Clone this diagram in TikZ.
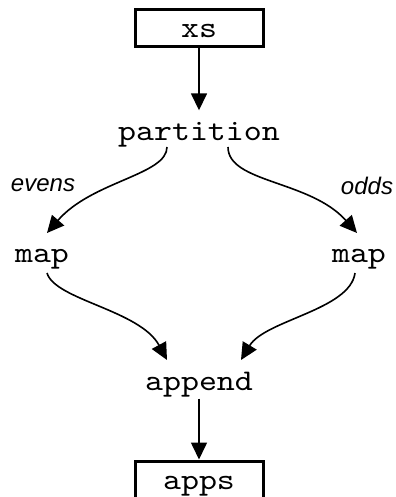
\documentclass[tikz,border=0pt]{standalone}
\usepackage{fontspec}
\newfontfamily\cour{lmmono10-regular.otf}[FakeStretch=1.14]
\newfontfamily\lab{Liberation Sans}
\usetikzlibrary{arrows.meta}
\begin{document}
\begin{tikzpicture}[x=1bp,y=-1bp,
  txt/.style={inner sep=0pt, text height=22bp, text depth=3bp, minimum height=42bp,
    font=\cour\fontsize{30bp}{34bp}\selectfont},
  boxnode/.style={txt, draw, line width=3bp, minimum width=128bp, minimum height=37bp},
  elabel/.style={inner sep=0pt, font=\lab\itshape\fontsize{24bp}{27bp}\selectfont},
  edge/.style={line width=1.6bp, -{Triangle[length=17bp,width=16bp]}}]
\useasboundingbox (0,0) rectangle (395,497);
\node[boxnode] (xs) at (199,28.5) {xs};
\node[txt] (part) at (199,131.5) {partition};
\node[txt] (mapl) at (42,252.5) {map};
\node[txt] (mapr) at (359,252.5) {map};
\node[txt] (app) at (199,380.5) {append};
\node[boxnode] (apps) at (199,479.5) {apps};
\node[elabel] (ev) at (43,185) {evens};
\node[elabel] (od) at (367,186) {odds};
\draw[edge] (xs.south) -- (part.north);
\draw[edge] ([shift={(-32,15.5)}]part.center) .. controls +(0,28) and +(45,-52) .. ([shift={(5,-19.5)}]mapl.center);
\draw[edge] ([shift={(29,15.5)}]part.center) .. controls +(0,36) and +(-47,-53) .. ([shift={(-2,-19.5)}]mapr.center);
\draw[edge] ([shift={(5,20.5)}]mapl.center) .. controls +(8,27) and +(-27,-50) .. ([shift={(-32,-20.5)}]app.center);
\draw[edge] ([shift={(-4,20.5)}]mapr.center) .. controls +(-5,37) and +(24,-40) .. ([shift={(42,-20.5)}]app.center);
\draw[edge] ([yshift=3bp]app.south) -- (apps.north);
\end{tikzpicture}
\end{document}
